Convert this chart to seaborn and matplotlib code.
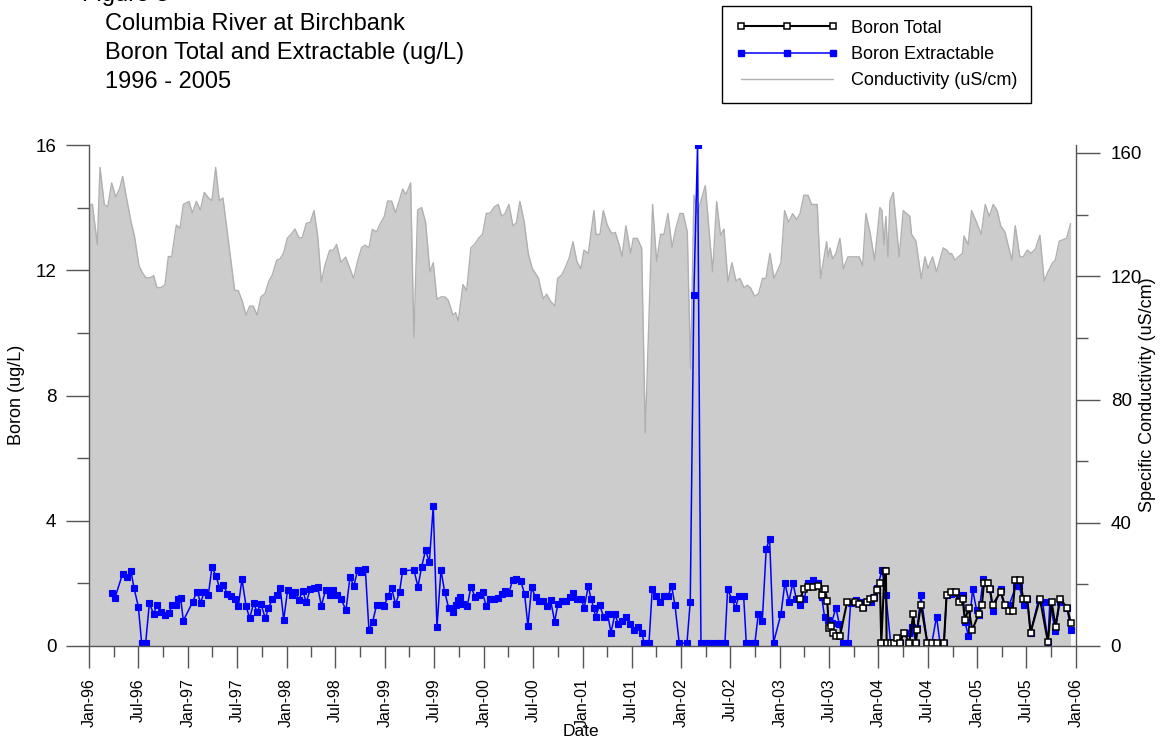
import matplotlib
matplotlib.use("Agg")
import matplotlib.pyplot as plt
import matplotlib.dates as mdates
from matplotlib.lines import Line2D
from matplotlib.ticker import MultipleLocator
import seaborn as sns
import numpy as np
import pandas as pd

sns.set_theme(style="ticks")
plt.rcParams["font.family"] = ["Liberation Sans", "DejaVu Sans"]
plt.rcParams["text.color"] = "black"

# sample times are given as months after 1 Jan 1996
START = pd.Timestamp("1996-01-01")
END = pd.Timestamp("2006-01-01")

COND_MONTH = [
    0.0, 0.41, 1.01, 1.34, 1.86, 2.27, 2.76, 3.24, 3.73, 4.09, 4.58, 5.11, 5.51, 6.08, 6.48,
    6.93, 7.42, 7.86, 8.27, 8.75, 9.24, 9.65, 10.05, 10.62, 11.06, 11.47, 12.16, 12.56, 13.05,
    13.54, 14.02, 14.51, 14.95, 15.40, 15.85, 16.29, 16.86, 17.71, 18.16, 18.64, 19.09, 19.53,
    19.98, 20.43, 20.91, 21.40, 21.88, 22.29, 22.82, 23.22, 23.67, 24.11, 24.56, 25.05, 25.53,
    25.94, 26.42, 26.91, 27.36, 27.80, 28.25, 28.69, 29.26, 29.71, 30.11, 30.64, 31.21, 31.73,
    32.18, 32.66, 33.15, 33.56, 34.04, 34.45, 34.97, 35.42, 35.91, 36.31, 36.80, 37.28, 37.69,
    38.14, 38.54, 39.11, 39.51, 39.96, 40.45, 40.93, 41.46, 41.86, 42.31, 42.80, 43.28, 43.69,
    44.25, 44.58, 44.90, 45.47, 45.92, 46.44, 46.93, 47.42, 47.86, 48.31, 48.79, 49.28, 49.77,
    50.17, 50.58, 51.06, 51.55, 51.96, 52.40, 52.93, 53.41, 53.90, 54.63, 55.24, 55.64, 56.17,
    56.66, 56.98, 57.47, 57.87, 58.40, 58.85, 59.33, 59.82, 60.19, 60.71, 61.40, 61.65, 62.13,
    62.54, 63.02, 63.55, 64.00, 64.48, 64.81, 65.29, 65.86, 66.18, 66.67, 67.20, 67.64, 68.53,
    69.02, 69.51, 69.91, 70.40, 70.89, 71.37, 71.86, 72.26, 72.75, 73.15, 73.56, 73.97, 74.94,
    75.83, 76.32, 76.80, 77.21, 77.69, 78.18, 78.67, 79.15, 79.64, 80.04, 80.45, 80.94, 81.42,
    81.91, 82.31, 82.80, 83.29, 84.14, 84.58, 85.07, 85.56, 86.04, 86.45, 86.93, 87.42, 87.87,
    88.55, 88.96, 89.69, 89.89, 90.10, 90.42, 90.82, 91.31, 91.72, 92.28, 93.66, 94.07, 94.47,
    94.96, 95.53, 96.17, 96.42, 96.66, 96.90, 97.15, 97.39, 97.80, 98.52, 99.01, 99.82, 100.02,
    100.55, 101.20, 101.65, 102.01, 102.58, 103.06, 103.87, 104.28, 104.68, 104.89, 105.29,
    105.70, 106.22, 106.39, 106.91, 107.32, 107.93, 108.49, 108.98, 109.47, 109.95, 110.44,
    110.85, 111.37, 112.22, 112.63, 113.19, 113.60, 114.09, 114.57, 115.10, 115.63, 116.15,
    116.60, 117.17, 117.49, 117.98, 118.87, 119.36,
]
COND_USCM = [
    142.9, 143.4, 130.3, 155.3, 143.3, 142.5, 150.3, 145.7, 148.5, 152.4, 145.2, 137.7, 133.3,
    123.4, 121.2, 119.5, 119.5, 120.2, 116.3, 116.3, 117.3, 126.4, 126.4, 136.6, 135.5, 143.3,
    144.3, 140.5, 144.3, 141.5, 147.2, 145.5, 144.5, 155.3, 144.5, 145.4, 133.3, 115.5, 115.3,
    111.9, 107.4, 110.3, 110.3, 107.4, 113.3, 114.4, 118.5, 120.4, 125.2, 125.6, 127.6, 132.3,
    133.6, 135.3, 132.5, 132.5, 137.2, 137.5, 141.3, 133.3, 118.2, 123.6, 128.4, 128.5, 130.3,
    124.5, 126.2, 122.5, 119.3, 124.9, 129.3, 130.1, 129.2, 135.2, 134.4, 137.1, 139.4, 144.4,
    144.4, 140.6, 144.2, 148.3, 146.5, 150.3, 100.0, 141.5, 142.3, 137.5, 121.4, 124.4, 112.5,
    113.3, 113.3, 112.2, 107.4, 108.2, 105.4, 117.3, 115.4, 129.2, 130.5, 132.5, 133.6, 140.4,
    140.5, 142.5, 143.3, 139.5, 140.3, 143.3, 136.4, 137.3, 144.3, 137.5, 127.4, 122.5, 119.5,
    112.6, 114.2, 111.7, 110.4, 119.3, 120.4, 122.5, 126.0, 131.2, 124.7, 122.5, 128.5, 127.4,
    141.3, 133.6, 133.6, 141.3, 136.6, 133.9, 134.2, 130.1, 126.4, 136.4, 127.4, 132.3, 132.3,
    129.2, 69.0, 143.3, 124.7, 133.6, 133.6, 140.4, 129.4, 135.7, 140.4, 140.3, 134.4, 90.0,
    146.3, 140.4, 149.4, 121.4, 144.2, 133.3, 135.3, 118.2, 124.4, 118.5, 119.3, 116.3, 117.1,
    116.2, 113.5, 114.4, 119.3, 119.3, 127.4, 119.3, 124.4, 141.3, 137.5, 140.3, 138.4, 140.3,
    146.3, 146.3, 143.3, 143.3, 119.3, 131.2, 126.3, 129.2, 125.6, 127.4, 132.3, 122.3, 126.3,
    126.3, 123.4, 140.3, 134.4, 125.2, 142.3, 141.3, 130.3, 139.4, 126.3, 144.4, 147.2, 126.3,
    141.3, 139.4, 133.6, 131.4, 119.3, 126.3, 122.5, 126.3, 121.4, 129.2, 128.5, 127.2, 127.4,
    125.2, 126.3, 127.4, 133.1, 130.3, 141.3, 137.5, 133.6, 143.3, 139.4, 143.3, 141.3, 136.4,
    134.4, 125.2, 136.4, 126.3, 126.3, 128.5, 127.4, 129.0, 133.3, 118.4, 121.4, 124.4, 125.2,
    131.4, 132.3, 137.1,
]

EXT_MONTH = [
    2.76, 3.16, 4.09, 4.62, 5.11, 5.47, 6.00, 6.40, 6.89, 7.34, 7.86, 8.23, 8.75, 9.24, 9.73,
    10.13, 10.62, 10.86, 11.14, 11.47, 12.60, 13.13, 13.58, 14.02, 14.51, 14.95, 15.48, 15.85,
    16.33, 16.82, 17.26, 17.75, 18.16, 18.60, 19.09, 19.53, 20.02, 20.43, 20.91, 21.44, 21.80,
    22.29, 22.82, 23.26, 23.67, 24.15, 24.64, 25.05, 25.53, 25.98, 26.42, 26.91, 27.40, 27.80,
    28.25, 28.77, 29.26, 29.71, 30.11, 30.64, 31.25, 31.73, 32.22, 32.66, 33.07, 33.60, 34.04,
    34.49, 34.97, 35.46, 35.91, 36.35, 36.80, 37.28, 37.77, 38.13, 39.51, 40.00, 40.45, 40.93,
    41.38, 41.86, 42.31, 42.80, 43.24, 43.73, 44.21, 44.62, 44.86, 45.11, 45.51, 46.00, 46.44,
    46.93, 47.38, 47.86, 48.27, 48.75, 49.24, 49.73, 50.17, 50.58, 51.06, 51.51, 51.95, 52.48,
    52.97, 53.37, 53.82, 54.30, 54.67, 55.20, 55.64, 56.13, 56.62, 57.02, 57.51, 58.00, 58.48,
    58.89, 59.37, 59.82, 60.22, 60.71, 61.04, 61.36, 61.60, 62.09, 62.58, 63.06, 63.47, 63.95,
    64.36, 64.84, 65.29, 65.78, 66.22, 66.71, 67.20, 67.52, 68.09, 68.49, 68.98, 69.42, 69.87,
    70.44, 70.84, 71.25, 71.77, 72.71, 73.11, 73.55, 74.00, 74.41, 74.98, 75.46, 76.27, 76.76,
    77.33, 77.65, 78.14, 78.62, 79.03, 79.60, 79.92, 80.49, 80.98, 81.38, 81.87, 82.35, 82.76,
    83.24, 84.14, 84.62, 85.11, 85.59, 86.00, 86.49, 86.97, 87.38, 88.03, 88.59, 89.08, 89.45,
    89.89, 90.30, 90.83, 91.23, 91.64, 92.28, 92.61, 93.26, 93.74, 94.15, 94.55, 95.04, 95.45,
    95.85, 96.42, 96.90, 97.47, 98.61, 99.09, 99.66, 100.07, 100.55, 100.71, 101.16, 101.93,
    102.50, 103.06, 103.47, 103.96, 104.28, 104.85, 105.41, 105.82, 106.31, 106.51, 106.92,
    107.44, 107.93, 108.17, 108.74, 109.14, 109.55, 109.87, 110.85, 111.37, 111.90, 112.71,
    113.12, 113.64, 114.09, 114.49, 115.47, 115.95, 116.60, 116.84, 117.49, 118.06, 118.95,
    119.36,
]
EXT_UGL = [
    1.68, 1.54, 2.31, 2.19, 2.39, 1.85, 1.26, 0.09, 0.09, 1.38, 1.01, 1.31, 1.10, 0.99, 1.06,
    1.30, 1.32, 1.49, 1.54, 0.81, 1.40, 1.74, 1.38, 1.74, 1.63, 2.51, 2.22, 1.86, 1.96, 1.66,
    1.60, 1.49, 1.28, 2.14, 1.28, 0.89, 1.36, 1.10, 1.34, 0.88, 1.20, 1.49, 1.63, 1.85, 0.83,
    1.79, 1.63, 1.73, 1.47, 1.77, 1.40, 1.81, 1.84, 1.90, 1.28, 1.79, 1.63, 1.79, 1.63, 1.50,
    1.15, 2.19, 1.92, 2.43, 2.35, 2.46, 0.51, 0.77, 1.31, 1.31, 1.27, 1.61, 1.85, 1.33, 1.74,
    2.40, 2.43, 1.89, 2.53, 3.07, 2.67, 4.47, 0.60, 2.43, 1.74, 1.22, 1.08, 1.31, 1.47, 1.58,
    1.34, 1.28, 1.89, 1.58, 1.63, 1.71, 1.29, 1.51, 1.50, 1.54, 1.66, 1.77, 1.69, 2.11, 2.14,
    2.09, 1.66, 0.64, 1.87, 1.55, 1.44, 1.44, 1.28, 1.46, 0.78, 1.34, 1.44, 1.45, 1.55, 1.70,
    1.49, 1.51, 1.22, 1.92, 1.51, 1.22, 0.92, 1.32, 0.92, 1.02, 0.43, 1.02, 0.70, 0.81, 0.92,
    0.70, 0.51, 0.62, 0.43, 0.09, 0.09, 1.81, 1.61, 1.42, 1.61, 1.61, 1.92, 1.31, 0.09, 0.09,
    1.42, 11.2, 16.0, 0.09, 0.11, 0.11, 0.11, 0.11, 0.11, 1.81, 1.51, 1.22, 1.61, 1.61, 0.11,
    0.11, 0.11, 1.02, 0.81, 3.11, 3.41, 0.11, 1.02, 2.02, 1.42, 2.02, 1.51, 1.31, 1.51, 2.02,
    2.11, 2.02, 1.58, 0.92, 0.83, 0.75, 1.22, 0.70, 0.11, 0.11, 1.36, 1.47, 1.42, 1.26, 1.42,
    1.42, 1.58, 1.84, 2.43, 1.63, 0.11, 0.11, 0.40, 0.40, 0.62, 0.11, 0.56, 1.63, 0.11, 0.11,
    0.94, 0.11, 0.11, 1.62, 1.66, 1.68, 1.47, 1.63, 0.78, 0.33, 1.81, 1.15, 0.99, 2.13, 2.00,
    1.81, 1.13, 1.81, 1.31, 1.31, 1.92, 1.92, 1.31, 1.51, 0.43, 1.47, 1.42, 0.13, 1.42, 0.49,
    1.42, 1.22, 0.51,
]

TOT_MONTH = [
    86.49, 86.89, 87.46, 88.03, 88.59, 89.08, 89.49, 89.77, 89.97, 90.22, 90.50, 90.83, 91.31,
    92.20, 93.09, 93.66, 94.07, 94.55, 94.96, 95.45, 95.85, 96.17, 96.34, 96.74, 96.90, 96.99,
    97.47, 97.88, 98.20, 98.61, 99.09, 99.74, 100.23, 100.55, 100.71, 101.16, 101.93, 102.46,
    103.06, 103.96, 104.28, 104.85, 105.41, 105.74, 106.23, 106.51, 106.96, 107.40, 108.17,
    108.58, 108.82, 109.26, 109.55, 109.87, 110.85, 111.33, 111.82, 112.30, 112.63, 113.20,
    113.60, 114.09, 114.49, 115.63, 116.60, 117.05, 117.53, 118.06, 118.95, 119.40,
]
TOT_UGL = [
    1.51, 1.81, 1.87, 1.87, 1.92, 1.63, 1.81, 1.44, 0.56, 0.64, 0.43, 0.32, 0.32, 1.42, 1.42,
    1.34, 1.20, 1.42, 1.49, 1.52, 1.79, 2.02, 0.11, 2.41, 2.41, 0.11, 0.11, 0.11, 0.24, 0.11,
    0.43, 0.11, 1.02, 0.11, 0.51, 1.32, 0.11, 0.11, 0.11, 0.11, 1.62, 1.73, 1.73, 1.42, 1.49,
    0.83, 1.20, 0.51, 1.01, 1.31, 2.02, 2.02, 1.81, 1.31, 1.73, 1.31, 1.12, 1.12, 2.11, 2.11,
    1.51, 1.51, 0.43, 1.51, 0.13, 1.41, 0.62, 1.51, 1.22, 0.72,
]

LEGEND_LABELS = ["Boron Total", "Boron Extractable", "Conductivity (uS/cm)"]
TITLE_LINES = ["Figure 3", "Columbia River at Birchbank",
               "Boron Total and Extractable (ug/L)", "1996 - 2005"]


def to_dates(months):
    return START + pd.to_timedelta(np.asarray(months) * 30.4375, unit="D")


cond = pd.DataFrame({"date": to_dates(COND_MONTH), "cond": COND_USCM})
ext = pd.DataFrame({"date": to_dates(EXT_MONTH), "boron": EXT_UGL})
tot = pd.DataFrame({"date": to_dates(TOT_MONTH), "boron": TOT_UGL})

W, H = 1164, 742
fig = plt.figure(figsize=(W / 100, H / 100), dpi=100)
ax = fig.add_axes([89 / W, 1 - 646 / H, (1076 - 89) / W, (646 - 145) / H])
ax2 = ax.twinx()

# conductivity as a filled area on the right axis
ax2.fill_between(cond["date"], cond["cond"], 0, color="#cccccc", linewidth=0)
sns.lineplot(data=cond, x="date", y="cond", ax=ax2, color="#b0b0b0", linewidth=1,
             estimator=None, sort=False)

ax.set_zorder(ax2.get_zorder() + 1)
ax.patch.set_visible(False)

sns.lineplot(data=ext, x="date", y="boron", ax=ax, color="#0000ff", linewidth=1.1,
             marker="s", markersize=4.6, markerfacecolor="#0000ff",
             markeredgecolor="#0000ff", markeredgewidth=0.8, estimator=None, sort=False)
sns.lineplot(data=tot, x="date", y="boron", ax=ax, color="black", linewidth=1.5,
             marker="s", markersize=4.2, markerfacecolor="white",
             markeredgecolor="black", markeredgewidth=1.1, estimator=None, sort=False)

ax.set_xlim(START, END)
ax.set_ylim(0, 16)
ax2.set_ylim(0, 160 * 501 / 493)

ax.yaxis.set_major_locator(MultipleLocator(4))
ax.yaxis.set_minor_locator(MultipleLocator(2))
ax2.yaxis.set_major_locator(MultipleLocator(40))
ax2.yaxis.set_minor_locator(MultipleLocator(20))
ax.xaxis.set_major_locator(mdates.MonthLocator(bymonth=[1, 7]))
ax.xaxis.set_minor_locator(mdates.MonthLocator(bymonth=[4, 10]))
ax.xaxis.set_major_formatter(mdates.DateFormatter("%b-%y"))

tick_col = "#555555"
for a in (ax, ax2):
    a.set_xlabel("")
    a.set_ylabel("")
    a.spines["top"].set_visible(False)
    for s in a.spines.values():
        s.set_color(tick_col)
        s.set_linewidth(1.0)
ax.spines["right"].set_visible(False)
ax2.spines["left"].set_visible(False)
ax2.spines["bottom"].set_visible(False)

ax.tick_params(axis="y", which="major", direction="out", length=16.5, width=1,
               color=tick_col, labelcolor="black", labelsize=13.5, pad=7)
ax.tick_params(axis="y", which="minor", direction="out", length=8.5, width=1, color=tick_col)
ax2.tick_params(axis="y", which="major", direction="out", length=17, width=1,
                color=tick_col, labelcolor="black", labelsize=13.5, pad=8)
ax2.tick_params(axis="y", which="minor", direction="out", length=8.5, width=1, color=tick_col)
ax.tick_params(axis="x", which="major", direction="out", length=16, width=1,
               color=tick_col, labelcolor="black", labelsize=11.5, pad=7, labelrotation=90)
ax.tick_params(axis="x", which="minor", direction="out", length=8, width=1, color=tick_col)

fig.text(17 / W, 1 - 395 / H, "Boron (ug/L)", rotation=90, ha="center", va="center",
         fontsize=13)
fig.text(1147 / W, 1 - 395 / H, "Specific Conductivity (uS/cm)", rotation=90,
         ha="center", va="center", fontsize=13)
fig.text(581 / W, 1 - 732 / H, "Date", ha="center", va="center", fontsize=12.5)

# title block, first line sits mostly above the page edge as in the source
for i, line in enumerate(TITLE_LINES):
    x0 = 82 if i == 0 else 105
    fig.text(x0 / W, 1 - (1 + 29 * i) / H, line, ha="left", va="baseline", fontsize=17)

handles = [
    Line2D([], [], color="black", linewidth=1.5, marker="s", markersize=4.2,
           markerfacecolor="white", markeredgecolor="black", markeredgewidth=1.1),
    Line2D([], [], color="#0000ff", linewidth=1.1, marker="s", markersize=4.6,
           markerfacecolor="#0000ff", markeredgecolor="#0000ff"),
    Line2D([], [], color="#b0b0b0", linewidth=1),
]
leg = fig.legend(handles, LEGEND_LABELS, loc="upper left",
                 bbox_to_anchor=(722 / W, 1 - 6 / H), bbox_transform=fig.transFigure,
                 frameon=True, fancybox=False, framealpha=1, edgecolor="black",
                 fontsize=13, handlelength=5.7, handletextpad=0.7, borderpad=0.75,
                 labelspacing=0.52, numpoints=3, borderaxespad=0)
leg.get_frame().set_linewidth(1.0)

fig.savefig("out.png", dpi=100)
plt.close(fig)
